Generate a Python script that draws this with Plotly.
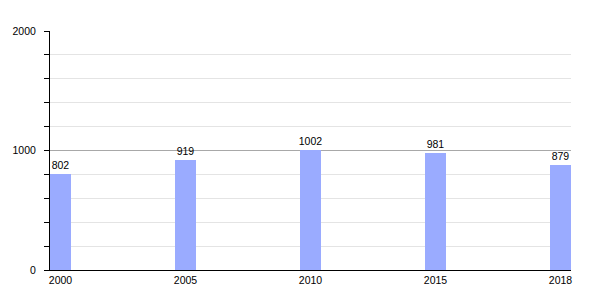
import plotly.graph_objects as go

years = ["2000", "2005", "2010", "2015", "2018"]
population = [802, 919, 1002, 981, 879]
y_ticks = [0, 1000, 2000]

pos = list(range(len(years)))
w = 0.168

fig = go.Figure(go.Bar(
    x=pos, y=population, width=w,
    marker=dict(color="#9aabff", line=dict(width=0)),
    text=[str(v) for v in population], textposition="outside",
    constraintext="none",
    textfont=dict(family="Liberation Sans, Arial", size=10.5, color="#000"),
    cliponaxis=False,
))

fig.update_layout(
    width=600, height=300,
    margin=dict(l=50, r=29, t=31, b=30),
    paper_bgcolor="white", plot_bgcolor="white",
    showlegend=False, bargap=0,
    font=dict(family="Liberation Sans, Arial", size=10.5, color="#000"),
    xaxis=dict(
        range=[-w / 2, len(years) - 1 + w / 2],
        tickvals=pos, ticktext=years, ticks="", showgrid=False,
        showline=True, linecolor="#000", linewidth=1, zeroline=False,
        tickfont=dict(size=10.5), ticklabelstandoff=0,
    ),
    yaxis=dict(
        range=[0, 2000], tickvals=y_ticks,
        ticks="outside", ticklen=5, tickcolor="#000", tickwidth=1,
        showline=True, linecolor="#000", linewidth=1, zeroline=False,
        showgrid=True, gridcolor="#a8a8a8", gridwidth=1,
        minor=dict(dtick=200, ticks="outside", ticklen=5, tickcolor="#000",
                   showgrid=True, gridcolor="#e4e4e4", gridwidth=1),
        tickfont=dict(size=10.5), ticklabelstandoff=6,
    ),
)

fig.write_html("out.html")
